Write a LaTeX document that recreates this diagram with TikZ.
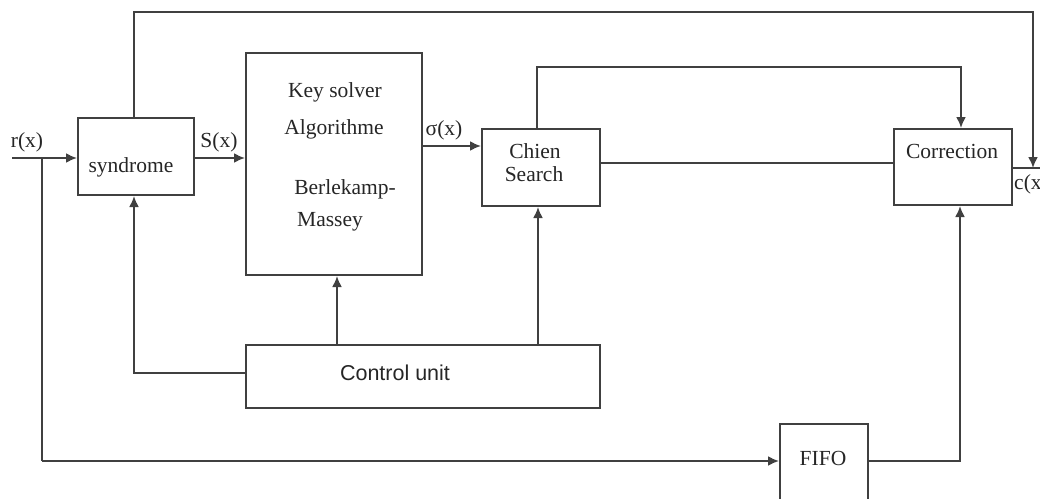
\documentclass[tikz,border=0pt]{standalone}
\usepackage{fontspec}
\setmainfont{Liberation Serif}
\newfontfamily\arialfont{Liberation Sans}
\usetikzlibrary{arrows.meta}
\begin{document}
\begin{tikzpicture}[x=1pt,y=-1pt,
  blk/.style={draw=black!75,line width=2pt,fill=white,inner sep=0pt,anchor=north west},
  wire/.style={draw=black!75,line width=2pt},
  arr/.style={wire,-{Latex[length=11pt,width=10pt]}},
  lbl/.style={font=\fontsize{21.5}{24}\selectfont,text=black!85,inner sep=0pt},
  sans/.style={font=\arialfont\fontsize{21.5}{24}\selectfont,text=black!85,inner sep=0pt}]
\useasboundingbox[fill=white] (0,0) rectangle (1040,498);
% blocks
\node[blk,minimum width=116pt,minimum height=77pt] (syn) at (77,117) {};
\node[blk,minimum width=176pt,minimum height=222pt] (key) at (245,52) {};
\node[blk,minimum width=118pt,minimum height=77pt] (chien) at (481,128) {};
\node[blk,minimum width=118pt,minimum height=76pt] (corr) at (893,128) {};
\node[blk,minimum width=354pt,minimum height=63pt] (ctrl) at (245,344) {};
\node[blk,minimum width=88pt,minimum height=90pt] (fifo) at (779,423) {};
% texts
\node[lbl] (tsyn) at (131,167) {syndrome};
\node[lbl] (tk1) at (335,92) {Key solver};
\node[lbl] (tk2) at (334,129) {Algorithme};
\node[lbl] (tk3) at (345,189) {Berlekamp-};
\node[lbl] (tk4) at (330,222) {Massey};
\node[lbl] (tc1) at (535,151) {Chien};
\node[lbl] (tc2) at (534,174) {Search};
\node[lbl] (tcorr) at (952,151) {Correction};
\node[sans] (tctrl) at (395,373) {Control unit};
\node[lbl] (tfifo) at (823,458) {FIFO};
\node[lbl] (lr) at (27,142) {r(x)};
\node[lbl] (ls) at (219,142) {S(x)};
\node[lbl] (lsig) at (444,130) {σ(x)};
\node[lbl,anchor=west] (lc) at (1014,184) {c(x)};
% coordinates
\coordinate (rin) at (12,158);
\coordinate (br) at (42,158);
\coordinate (out) at (1040,168);
% connectors
\draw[arr] (rin) -- (syn.west |- rin);
\draw[wire] (br) -- (42,461) coordinate (bl);
\draw[arr] (bl) -- (fifo.west |- bl);
\draw[arr] (syn.east |- 0,158) -- (key.west |- 0,158);
\draw[arr] (key.east |- 0,146) -- (chien.west |- 0,146);
\draw[wire] (chien.east |- 0,163) -- (corr.west |- 0,163);
\draw[wire] (corr.east |- out) -- (out);
\draw[arr] (syn.north -| 134,0) -- (134,12) -- (1033,12) -- (1033,168);
\draw[arr] (chien.north -| 537,0) -- (537,67) -- (961,67) -- (corr.north -| 961,0);
\draw[arr] (ctrl.north -| 337,0) -- (key.south -| 337,0);
\draw[arr] (ctrl.north -| 538,0) -- (chien.south -| 538,0);
\draw[arr] (ctrl.west |- 0,373) -- (134,373) -- (syn.south -| 134,0);
\draw[arr] (fifo.east |- 0,461) -- (960,461) -- (corr.south -| 960,0);
\end{tikzpicture}
\end{document}
